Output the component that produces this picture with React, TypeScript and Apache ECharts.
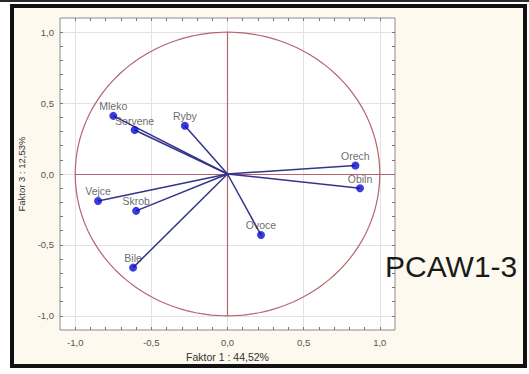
import React, { useEffect, useRef } from "react";
import * as echarts from "echarts";

const NAMES = ["Mleko", "Servene", "Ryby", "Orech", "Obiln", "Vejce", "Skrob", "Ovoce", "Bile"];
const FAKTOR1 = [-0.75, -0.61, -0.28, 0.84, 0.87, -0.85, -0.6, 0.22, -0.62];
const FAKTOR3 = [0.41, 0.31, 0.34, 0.06, -0.1, -0.19, -0.26, -0.43, -0.66];

const AXIS_MIN = -1.1;
const AXIS_MAX = 1.1;
const MAJOR_TICKS = [-1, -0.5, 0, 0.5, 1];
const MINOR_TICKS = [-1, -0.9, -0.8, -0.7, -0.6, -0.5, -0.4, -0.3, -0.2, -0.1, 0, 0.1, 0.2, 0.3, 0.4, 0.5, 0.6, 0.7, 0.8, 0.9, 1];
const CROSS_SEGMENTS = [
  [[-1, 0], [1.1, 0]],
  [[0, 1], [0, -1]],
];
const X_NAME = "Faktor 1 : 44,52%";
const Y_NAME = "Faktor 3 : 12,53%";
const TITLE = "PCAW1-3";

const FONT = "Liberation Sans";
const fmt = (v: number) => v.toFixed(1).replace(".", ",");

export default function App() {
  const ref = useRef<HTMLDivElement>(null);
  useEffect(() => {
    if (!ref.current) return;
    const chart = echarts.init(ref.current, null, { renderer: "svg" });
    const tickStyle = { lineStyle: { color: "#777", width: 1 } };
    const labelStyle = { color: "#555", fontSize: 9.5, fontFamily: FONT };
    const baseAxis = { type: "value" as const, min: AXIS_MIN, max: AXIS_MAX };
    const noLine = { show: false, onZero: false };
    chart.setOption({
      animation: false,
      backgroundColor: "#ffffff",
      textStyle: { fontFamily: FONT },
      grid: {
        left: 60,
        right: 134,
        top: 18,
        bottom: 44,
        show: true,
        backgroundColor: "#ffffff",
        borderColor: "#8c8c8c",
        borderWidth: 1,
      },
      xAxis: [
        {
          ...baseAxis,
          position: "bottom",
          name: X_NAME,
          nameLocation: "middle",
          nameGap: 19,
          nameTextStyle: { color: "#333", fontSize: 10.5, fontFamily: FONT },
          axisLine: noLine,
          axisLabel: { ...labelStyle, margin: 7, customValues: MAJOR_TICKS, formatter: fmt },
          axisTick: { show: true, inside: true, length: 3, customValues: MINOR_TICKS, ...tickStyle },
          splitLine: { show: false },
        },
        {
          ...baseAxis,
          position: "top",
          axisLine: noLine,
          axisLabel: { show: false },
          axisTick: { show: true, inside: true, length: 3, customValues: MINOR_TICKS, ...tickStyle },
          splitLine: { show: false },
        },
        {
          ...baseAxis,
          position: "bottom",
          axisLine: noLine,
          axisLabel: { show: false },
          axisTick: { show: false, customValues: MAJOR_TICKS },
          splitLine: { show: true, lineStyle: { color: "#e2e2e2", width: 1 } },
        },
      ],
      yAxis: [
        {
          ...baseAxis,
          position: "left",
          name: Y_NAME,
          nameLocation: "middle",
          nameGap: 31,
          nameTextStyle: { color: "#333", fontSize: 9.5, fontFamily: FONT },
          axisLine: noLine,
          axisLabel: { ...labelStyle, margin: 6, customValues: MAJOR_TICKS, formatter: fmt },
          axisTick: { show: true, inside: true, length: 3, customValues: MINOR_TICKS, ...tickStyle },
          splitLine: { show: false },
        },
        {
          ...baseAxis,
          position: "right",
          axisLine: noLine,
          axisLabel: { show: false },
          axisTick: { show: true, inside: true, length: 3, customValues: MINOR_TICKS, ...tickStyle },
          splitLine: { show: false },
        },
        {
          ...baseAxis,
          position: "left",
          axisLine: noLine,
          axisLabel: { show: false },
          axisTick: { show: false, customValues: MAJOR_TICKS },
          splitLine: { show: true, lineStyle: { color: "#e2e2e2", width: 1 } },
        },
      ],
      graphic: [
        {
          type: "rect",
          z: -1,
          shape: { x: 0, y: 0, width: 529, height: 2 },
          style: { fill: "#2a2a2a" },
        },
        {
          type: "rect",
          z: -1,
          shape: { x: 12, y: 6, width: 513, height: 360 },
          style: { fill: "#fdf9ee", stroke: "#111111", lineWidth: 4 },
        },
        {
          type: "text",
          z: 100,
          x: 385,
          y: 266,
          style: {
            text: TITLE,
            font: `30px "${FONT}"`,
            fill: "#1a1a1a",
            verticalAlign: "middle",
            align: "left",
          },
        },
      ],
      series: [
        {
          type: "custom",
          name: "circle",
          coordinateSystem: "cartesian2d",
          xAxisIndex: 0,
          yAxisIndex: 0,
          silent: true,
          z: 2,
          data: [[0, 0]],
          renderItem: (_params: any, api: any) => {
            const pts: number[][] = [];
            for (let i = 0; i <= 180; i++) {
              const a = (i / 180) * Math.PI * 2;
              pts.push(api.coord([Math.cos(a), Math.sin(a)]));
            }
            return {
              type: "polyline",
              shape: { points: pts },
              style: { stroke: "#b5646e", lineWidth: 1.2, fill: "none" },
            };
          },
        },
        {
          type: "lines",
          name: "cross",
          coordinateSystem: "cartesian2d",
          xAxisIndex: 0,
          yAxisIndex: 0,
          silent: true,
          z: 2,
          lineStyle: { color: "#b5646e", width: 1.2, opacity: 1 },
          data: CROSS_SEGMENTS.map((c) => ({ coords: c })),
        },
        {
          type: "lines",
          name: "vectors",
          coordinateSystem: "cartesian2d",
          xAxisIndex: 0,
          yAxisIndex: 0,
          silent: true,
          z: 3,
          lineStyle: { color: "#34348c", width: 1.5, opacity: 1 },
          data: NAMES.map((_, i) => ({ coords: [[0, 0], [FAKTOR1[i], FAKTOR3[i]]] })),
        },
        {
          type: "scatter",
          name: "points",
          xAxisIndex: 0,
          yAxisIndex: 0,
          z: 4,
          symbolSize: 8,
          itemStyle: { color: "#0a0ad0" },
          label: {
            show: true,
            position: "top",
            distance: 0,
            color: "#444",
            fontSize: 10.5,
            fontFamily: FONT,
            formatter: (p: any) => p.data[2],
          },
          data: NAMES.map((n, i) => [FAKTOR1[i], FAKTOR3[i], n]),
        },
      ],
    });
    return () => chart.dispose();
  }, []);
  return (
    <div
      ref={ref}
      style={{ position: "fixed", left: 0, top: 0, width: 529, height: 374 }}
    />
  );
}
